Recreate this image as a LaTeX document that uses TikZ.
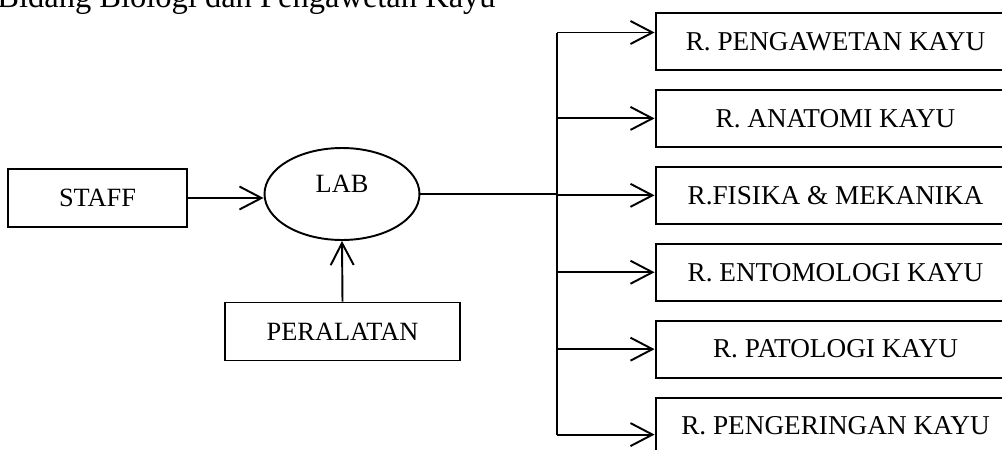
\documentclass[tikz,border=0pt]{standalone}
\usepackage{fontspec}
\setmainfont{Liberation Serif}
\usetikzlibrary{arrows.meta,positioning,shapes.geometric}
\tikzset{
    srcbox/.style={
        draw,
        line width=1.1pt,
        font=\fontsize{15}{18}\selectfont,
        inner sep=0pt,
        minimum height=1.16cm
    },
    labbox/.style={
        draw,
        ellipse,
        line width=1.1pt,
        inner sep=0pt,
        minimum width=3.1cm,
        minimum height=1.84cm
    },
    roombox/.style={
        draw,
        line width=1.1pt,
        font=\fontsize{15.5}{18}\selectfont,
        inner sep=0pt,
        minimum width=7.2cm,
        minimum height=1.14cm
    },
    feed/.style={
        -{Straight Barb[length=4.4mm,width=4.6mm]},
        line width=1.1pt
    },
    link/.style={
        line width=1.1pt
    }
}
\begin{document}
\begin{tikzpicture}[x=0.02cm, y=-0.02cm]
        \useasboundingbox (0,0) rectangle (1002,450);

        \node[anchor=base west, inner sep=0pt, font=\fontsize{18.5}{22}\selectfont] (title) at (-3,7) {Bidang Biologi dan Pengawetan Kayu};

        \node[srcbox, minimum width=3.58cm] (staff) at (97.5,198) {STAFF};
        \node[labbox] (lab) at (342,194) {};
        \node[font=\fontsize{15}{18}\selectfont] (labtext) at ([yshift=0.2cm]lab.center) {LAB};
        \node[srcbox, minimum width=4.7cm] (alat) at (342.5,331.5) {PERALATAN};

        \node[roombox] (r1) at (835.5,41.5) {R. PENGAWETAN KAYU};
        \node[roombox, below=0.36cm of r1] (r2) {R. ANATOMI KAYU};
        \node[roombox, below=0.36cm of r2] (r3) {R.FISIKA \& MEKANIKA};
        \node[roombox, below=0.36cm of r3] (r4) {R. ENTOMOLOGI KAYU};
        \node[roombox, below=0.36cm of r4] (r5) {R. PATOLOGI KAYU};
        \node[roombox, below=0.36cm of r5] (r6) {R. PENGERINGAN KAYU};

        \coordinate (bus) at (557,0);
        \coordinate (in1) at ([yshift=0.18cm]r1.west);
        \coordinate (in6) at ([yshift=-0.17cm]r6.west);

        \draw[feed] (staff.east) -- (staff.east -| lab.west);
        \draw[feed] (alat.north) -- (lab.south);
        \draw[link] (lab.east) -- (lab.east -| bus);
        \draw[link] (bus |- in1) -- (bus |- in6);

        \draw[feed] (bus |- in1) -- (in1);
        \foreach \r in {r2,r3,r4,r5}
            \draw[feed] (bus |- \r.west) -- (\r.west);
        \draw[feed] (bus |- in6) -- (in6);
    \end{tikzpicture}
\end{document}
